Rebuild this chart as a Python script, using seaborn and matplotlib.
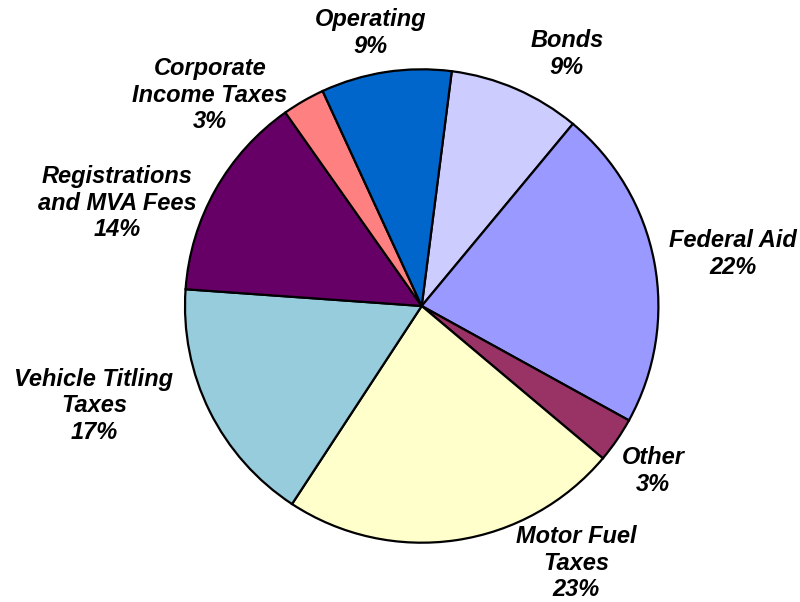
import matplotlib
matplotlib.use("Agg")
import matplotlib.pyplot as plt
import seaborn as sns

# ---- data ----
categories = ["Bonds", "Federal Aid", "Other", "Motor Fuel\nTaxes", "Vehicle Titling\nTaxes",
              "Registrations\nand MVA Fees", "Corporate\nIncome Taxes", "Operating"]
shares = [9.0, 22.0, 3.1, 23.1, 16.9, 14.1, 2.9, 8.9]
colors = ["#CCCCFF", "#9999FF", "#993366", "#FFFFCC", "#96CCDC", "#660066", "#FF8080", "#0066CC"]

# ---- layout (pixel positions of label block centres) ----
label_px = [(567, 54), (733, 254), (653, 471), (576, 563), (94, 406), (117, 203), (210, 95), (371, 33)]

W, H = 800, 602
sns.set_theme(style="white")
plt.rcParams['font.family'] = ['Liberation Sans', 'DejaVu Sans']

fig = plt.figure(figsize=(W / 100, H / 100), dpi=100)
ax = fig.add_axes([0, 0, 1, 1])

cx, cy, r = 421.7, H - 306, 236.7
ax.pie(shares, colors=colors, startangle=82.7, counterclock=False,
       center=(cx, cy), radius=r, frame=True,
       wedgeprops=dict(edgecolor="black", linewidth=1.6))
ax.set_xlim(0, W)
ax.set_ylim(0, H)
ax.set_aspect("equal")
ax.axis("off")

total = sum(shares)
for cat, val, (lx, ly) in zip(categories, shares, label_px):
    txt = f"{cat}\n{round(val / total * 100):.0f}%"
    ax.text(lx, H - ly, txt, ha="center", va="center", fontsize=17,
            fontweight="bold", fontstyle="italic", color="black", linespacing=1.22)

fig.savefig("out.png", dpi=100, facecolor="white")
